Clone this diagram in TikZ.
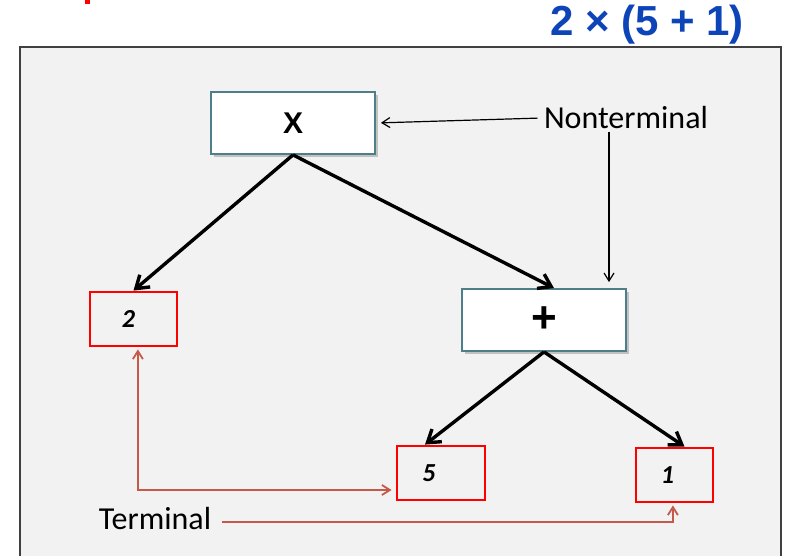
\documentclass[tikz,border=0pt]{standalone}
\usepackage{fontspec}
\setmainfont{Carlito}
\newfontfamily\headfont{Liberation Sans}
\usetikzlibrary{arrows.meta, positioning, shadows, calc}
\definecolor{cPanel}{HTML}{F2F2F2}
\definecolor{cFrame}{HTML}{404040}
\definecolor{cOp}{HTML}{4E7F88}
\definecolor{cLeaf}{HTML}{FF0000}
\definecolor{cTerm}{HTML}{C55A4A}
\definecolor{cTitle}{HTML}{0D44B8}
\tikzset{
  opbox/.style={draw=cOp, fill=white, line width=0.9pt, minimum width=82pt,
    minimum height=31pt, inner sep=0pt, font=\headfont\bfseries\fontsize{15}{18}\selectfont,
    drop shadow={shadow xshift=1.5pt, shadow yshift=-1.5pt, opacity=0.35, fill=black!60}},
  leafbox/.style={draw=cLeaf, fill=cPanel, line width=1.4pt, minimum height=27pt,
    inner sep=0pt, font=\bfseries\itshape\fontsize{13}{15}\selectfont,
    execute at end node=\kern5pt},
  tag/.style={font=\fontsize{16}{19}\selectfont, inner sep=1pt},
  treeflow/.style={-{Straight Barb[length=6pt, width=8pt]}, line width=1.7pt, draw=black},
  tagflow/.style={-{Straight Barb[length=4pt, width=5pt]}, line width=0.6pt, draw=black},
  termflow/.style={{Straight Barb[length=4pt, width=5pt]}-{Straight Barb[length=4pt, width=5pt]},
    line width=0.9pt, draw=cTerm},
}
\begin{document}
\begin{tikzpicture}[x=0.5pt, y=-0.5pt]

  % frame and backdrop
  \useasboundingbox[fill=white] (0,0) rectangle (797,556);
  \fill[cLeaf] (85,0) rectangle (90,4);
  \draw[cFrame, fill=cPanel, line width=0.8pt] (20,47) rectangle (781,560);

  % title
  \node[font=\headfont\bfseries\fontsize{21}{25}\selectfont, text=cTitle] (title)
    at (647,25) {2 × (5 + 1)};

  % operator nodes
  \node[opbox] (opX)    at (293,123) {X};
  \node[opbox, font=\headfont\bfseries\fontsize{22}{24}\selectfont] (opPlus) at (544,320) {+};

  % leaves
  \node[leafbox, minimum width=43.5pt] (num2) at (133.5,319) {2};
  \node[leafbox, minimum width=44pt, execute at end node=\kern7pt] (num5) at (441,473) {5};
  \node[leafbox, minimum width=38.5pt, execute at end node=\kern2pt] (num1) at (674.5,475) {1};

  % labels
  \node[tag] (nonterm) at (626,118) {Nonterminal};
  \node[tag] (term)    at (155,519) {Terminal};

  % tree edges
  \draw[treeflow] (opX.south) -- (num2.north);
  \draw[treeflow] (opX.south) -- ([xshift=5pt]opPlus.north);
  \draw[treeflow] (opPlus.south) -- ([xshift=-8pt]num5.north);
  \draw[treeflow] (opPlus.south) -- ([xshift=5pt]num1.north);

  % nonterminal pointers
  \draw[tagflow, shorten <=2pt, shorten >=2.5pt] (nonterm.west) -- (opX.east);
  \draw[tagflow, shorten >=3pt] ([xshift=-8.5pt]nonterm.south) -- ([xshift=-8.5pt]nonterm.south |- opPlus.north);

  % terminal pointers
  \draw[termflow, shorten <=2pt, shorten >=1pt] ([yshift=-8.5pt]num5.west) -| ([xshift=2.2pt]num2.south);
  \draw[termflow, -{Straight Barb[length=4pt, width=5pt]}, shorten <=4pt, shorten >=1pt]
    ([yshift=-1.5pt]term.east) -| ([xshift=-0.8pt]num1.south);

\end{tikzpicture}
\end{document}
